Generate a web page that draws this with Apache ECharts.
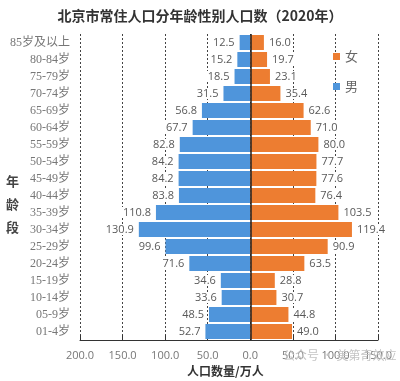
<!DOCTYPE html>
<html><head><meta charset="utf-8">
<script src="https://cdn.jsdelivr.net/npm/echarts@6/dist/echarts.min.js"></script>
<style>html,body{margin:0;padding:0;background:#fff}#c{width:400px;height:381px}</style>
</head><body><div id="c"></div>
<script>
const categories = ['85岁及以上','80-84岁','75-79岁','70-74岁','65-69岁','60-64岁','55-59岁','50-54岁','45-49岁','40-44岁','35-39岁','30-34岁','25-29岁','20-24岁','15-19岁','10-14岁','05-9岁','01-4岁'];
const maleValues = [12.5,15.2,18.5,31.5,56.8,67.7,82.8,84.2,84.2,83.8,110.8,130.9,99.6,71.6,34.6,33.6,48.5,52.7];
const femaleValues = [16.0,19.7,23.1,35.4,62.6,71.0,80.0,77.7,77.6,76.4,103.5,119.4,90.9,63.5,28.8,30.7,44.8,49.0];
const titleText = '北京市常住人口分年龄性别人口数（2020年）';
const xName = '人口数量/万人';
const yName = '年龄段';

const chart = echarts.init(document.getElementById('c'));
const lblFont = "'Open Sans','Liberation Sans',sans-serif";
chart.setOption({
  animation: false,
  title: { text: titleText, left: 'center', top: 4,
    textStyle: { fontSize: 14, fontWeight: 'bold', color: '#333', fontFamily: "'Noto Sans CJK SC'" } },
  legend: { data: ['女','男'], orient: 'vertical', left: 328, top: 45, itemGap: 17,
    itemWidth: 7, itemHeight: 7, icon: 'rect',
    textStyle: { fontSize: 13, color: '#666', fontFamily: "'Noto Sans CJK SC'" } },
  grid: { left: 80, right: 22, top: 34, bottom: 41 },
  xAxis: { type: 'value', min: -200, max: 150, interval: 50,
    axisLine: { show: true, lineStyle: { color: '#333' } },
    axisTick: { show: true, inside: true, length: 5, lineStyle: { color: '#333' } },
    axisLabel: { formatter: v => Math.abs(v).toFixed(1), color: '#777', fontSize: 11, margin: 10, fontFamily: lblFont },
    splitLine: { show: true, lineStyle: { color: '#444', type: [2,2], width: 1 } } },
  yAxis: { type: 'category', data: categories, inverse: true,
    axisLine: { show: false }, axisTick: { show: false },
    axisLabel: { color: '#777', fontSize: 12, margin: 10, fontFamily: "'Liberation Serif','Noto Sans CJK SC',serif" } },
  series: [
    { name: '男', type: 'bar', data: maleValues.map(v => -v), barGap: '-100%', barCategoryGap: '12%',
      itemStyle: { color: '#4f95db' },
      label: { show: true, position: 'left', distance: 4, formatter: p => Math.abs(p.value).toFixed(1),
        color: '#595959', fontSize: 11, fontFamily: lblFont, backgroundColor: '#fff', padding: [0,1] },
      markLine: { silent: true, symbol: 'none', label: { show: false },
        lineStyle: { color: '#222', type: 'solid', width: 1.5 }, data: [{ xAxis: 0 }] } },
    { name: '女', type: 'bar', data: femaleValues,
      itemStyle: { color: '#ed7d31' },
      label: { show: true, position: 'right', distance: 4, formatter: p => p.value.toFixed(1),
        color: '#595959', fontSize: 11, fontFamily: lblFont, backgroundColor: '#fff', padding: [0,1] } }
  ],
  graphic: [
    { type: 'text', left: 6, top: 170, style: { text: yName.split('').join('\n'), fontSize: 13, fontWeight: 'bold',
      fill: '#444', lineHeight: 23, fontFamily: "'Noto Sans CJK SC'" } },
    { type: 'text', left: 187, top: 365, style: { text: xName, fontSize: 12, fontWeight: 'bold',
      fill: '#333', fontFamily: "'Noto Sans CJK SC'" } },
    { type: 'text', left: 283, top: 349, z: 100, style: { text: '公众号 · 美第奇效应', fontSize: 12,
      fill: '#c4c4c4', fontFamily: "'Noto Sans CJK SC'" } }
  ]
});
</script></body></html>
